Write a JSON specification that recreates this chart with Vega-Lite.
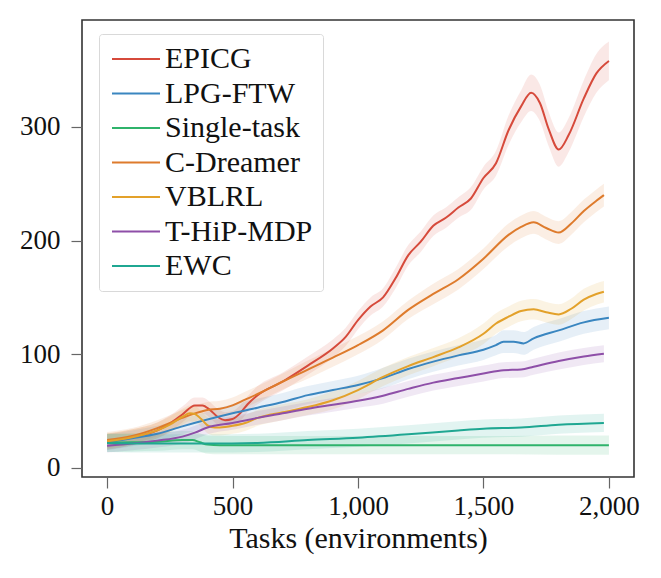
{
  "$schema": "https://vega.github.io/schema/vega-lite/v6.json",
  "width": 552,
  "height": 457,
  "padding": {"left": 19, "top": 20, "right": 10, "bottom": 10},
  "background": "white",
  "config": {
    "view": {"stroke": "#333333", "strokeWidth": 1.6},
    "font": "Liberation Serif",
    "axis": {
      "domain": false, "grid": false,
      "tickColor": "#666666", "tickSize": 11, "tickWidth": 1.2,
      "labelFont": "Liberation Serif", "labelFontSize": 27, "labelColor": "#111111",
      "titleFont": "Liberation Serif", "titleFontSize": 30, "titleFontWeight": "normal", "titleColor": "#111111"
    },
    "legend": {
      "orient": "none", "legendX": 17, "legendY": 14,
      "symbolType": "M-1,0L3,0", "symbolSize": 576, "symbolStrokeWidth": 2, "symbolOpacity": 1,
      "labelFont": "Liberation Serif", "labelFontSize": 30, "labelColor": "#111111", "labelOffset": 26,
      "padding": 10, "rowPadding": 4.5,
      "strokeColor": "#d9d9d9", "fillColor": "white", "cornerRadius": 3
    }
  },
  "data": {
    "values": [
      {"s": "EPICG", "x": 0, "y": 23, "lo": 16, "hi": 30},
      {"s": "EPICG", "x": 100, "y": 27, "lo": 20, "hi": 34},
      {"s": "EPICG", "x": 200, "y": 33, "lo": 26, "hi": 40},
      {"s": "EPICG", "x": 250, "y": 39, "lo": 32, "hi": 46},
      {"s": "EPICG", "x": 300, "y": 47, "lo": 40, "hi": 54},
      {"s": "EPICG", "x": 350, "y": 55, "lo": 48, "hi": 62},
      {"s": "EPICG", "x": 380, "y": 55, "lo": 48, "hi": 62},
      {"s": "EPICG", "x": 410, "y": 51, "lo": 44, "hi": 58},
      {"s": "EPICG", "x": 440, "y": 45, "lo": 38, "hi": 52},
      {"s": "EPICG", "x": 470, "y": 42, "lo": 35, "hi": 49},
      {"s": "EPICG", "x": 500, "y": 43, "lo": 36, "hi": 50},
      {"s": "EPICG", "x": 530, "y": 48, "lo": 41, "hi": 55},
      {"s": "EPICG", "x": 560, "y": 56, "lo": 49, "hi": 63},
      {"s": "EPICG", "x": 600, "y": 64, "lo": 56, "hi": 72},
      {"s": "EPICG", "x": 700, "y": 76, "lo": 68, "hi": 84},
      {"s": "EPICG", "x": 800, "y": 90, "lo": 82, "hi": 98},
      {"s": "EPICG", "x": 900, "y": 105, "lo": 97, "hi": 113},
      {"s": "EPICG", "x": 950, "y": 115, "lo": 107, "hi": 123},
      {"s": "EPICG", "x": 1000, "y": 130, "lo": 122, "hi": 138},
      {"s": "EPICG", "x": 1050, "y": 142, "lo": 134, "hi": 150},
      {"s": "EPICG", "x": 1100, "y": 150, "lo": 142, "hi": 158},
      {"s": "EPICG", "x": 1150, "y": 167, "lo": 158, "hi": 176},
      {"s": "EPICG", "x": 1200, "y": 187, "lo": 178, "hi": 196},
      {"s": "EPICG", "x": 1250, "y": 199, "lo": 190, "hi": 208},
      {"s": "EPICG", "x": 1300, "y": 213, "lo": 204, "hi": 222},
      {"s": "EPICG", "x": 1350, "y": 220, "lo": 211, "hi": 229},
      {"s": "EPICG", "x": 1400, "y": 229, "lo": 220, "hi": 238},
      {"s": "EPICG", "x": 1450, "y": 237, "lo": 227, "hi": 247},
      {"s": "EPICG", "x": 1500, "y": 255, "lo": 245, "hi": 265},
      {"s": "EPICG", "x": 1550, "y": 268, "lo": 257, "hi": 279},
      {"s": "EPICG", "x": 1600, "y": 297, "lo": 284, "hi": 310},
      {"s": "EPICG", "x": 1650, "y": 318, "lo": 304, "hi": 332},
      {"s": "EPICG", "x": 1690, "y": 330, "lo": 314, "hi": 346},
      {"s": "EPICG", "x": 1725, "y": 321, "lo": 305, "hi": 337},
      {"s": "EPICG", "x": 1760, "y": 298, "lo": 283, "hi": 313},
      {"s": "EPICG", "x": 1800, "y": 280, "lo": 265, "hi": 295},
      {"s": "EPICG", "x": 1840, "y": 293, "lo": 278, "hi": 308},
      {"s": "EPICG", "x": 1900, "y": 325, "lo": 309, "hi": 341},
      {"s": "EPICG", "x": 1950, "y": 347, "lo": 330, "hi": 364},
      {"s": "EPICG", "x": 2000, "y": 358, "lo": 341, "hi": 375},

      {"s": "LPG-FTW", "x": 0, "y": 22.5, "lo": 15.5, "hi": 29.5},
      {"s": "LPG-FTW", "x": 100, "y": 26, "lo": 19, "hi": 33},
      {"s": "LPG-FTW", "x": 200, "y": 30, "lo": 23, "hi": 37},
      {"s": "LPG-FTW", "x": 300, "y": 36.5, "lo": 29.5, "hi": 43.5},
      {"s": "LPG-FTW", "x": 400, "y": 42.5, "lo": 35.5, "hi": 49.5},
      {"s": "LPG-FTW", "x": 500, "y": 48, "lo": 40, "hi": 56},
      {"s": "LPG-FTW", "x": 600, "y": 53, "lo": 45, "hi": 61},
      {"s": "LPG-FTW", "x": 700, "y": 58, "lo": 50, "hi": 66},
      {"s": "LPG-FTW", "x": 800, "y": 64, "lo": 56, "hi": 72},
      {"s": "LPG-FTW", "x": 900, "y": 68.5, "lo": 60.5, "hi": 76.5},
      {"s": "LPG-FTW", "x": 1000, "y": 73, "lo": 65, "hi": 81},
      {"s": "LPG-FTW", "x": 1100, "y": 79, "lo": 70, "hi": 88},
      {"s": "LPG-FTW", "x": 1200, "y": 87, "lo": 78, "hi": 96},
      {"s": "LPG-FTW", "x": 1300, "y": 93.5, "lo": 84.5, "hi": 102.5},
      {"s": "LPG-FTW", "x": 1400, "y": 99, "lo": 90, "hi": 108},
      {"s": "LPG-FTW", "x": 1500, "y": 104, "lo": 95, "hi": 113},
      {"s": "LPG-FTW", "x": 1550, "y": 108, "lo": 99, "hi": 117},
      {"s": "LPG-FTW", "x": 1580, "y": 111, "lo": 101, "hi": 121},
      {"s": "LPG-FTW", "x": 1620, "y": 111, "lo": 101, "hi": 121},
      {"s": "LPG-FTW", "x": 1660, "y": 109.5, "lo": 99.5, "hi": 119.5},
      {"s": "LPG-FTW", "x": 1700, "y": 114, "lo": 104, "hi": 124},
      {"s": "LPG-FTW", "x": 1800, "y": 121, "lo": 111, "hi": 131},
      {"s": "LPG-FTW", "x": 1900, "y": 128, "lo": 118, "hi": 138},
      {"s": "LPG-FTW", "x": 2000, "y": 132, "lo": 122, "hi": 142},

      {"s": "Single-task", "x": 0, "y": 22, "lo": 14, "hi": 30},
      {"s": "Single-task", "x": 100, "y": 22.5, "lo": 14.5, "hi": 30.5},
      {"s": "Single-task", "x": 200, "y": 23, "lo": 15, "hi": 31},
      {"s": "Single-task", "x": 300, "y": 24.5, "lo": 16.5, "hi": 32.5},
      {"s": "Single-task", "x": 340, "y": 24.5, "lo": 16.5, "hi": 32.5},
      {"s": "Single-task", "x": 370, "y": 22.5, "lo": 14.5, "hi": 30.5},
      {"s": "Single-task", "x": 400, "y": 20.5, "lo": 12.5, "hi": 28.5},
      {"s": "Single-task", "x": 450, "y": 20, "lo": 12, "hi": 28},
      {"s": "Single-task", "x": 600, "y": 20, "lo": 12, "hi": 28},
      {"s": "Single-task", "x": 800, "y": 20, "lo": 12, "hi": 28},
      {"s": "Single-task", "x": 1000, "y": 20, "lo": 12, "hi": 28},
      {"s": "Single-task", "x": 1200, "y": 20, "lo": 12, "hi": 28},
      {"s": "Single-task", "x": 1400, "y": 20, "lo": 12, "hi": 28},
      {"s": "Single-task", "x": 1600, "y": 20, "lo": 12, "hi": 28},
      {"s": "Single-task", "x": 1800, "y": 20, "lo": 11.5, "hi": 28.5},
      {"s": "Single-task", "x": 2000, "y": 20, "lo": 11.5, "hi": 28.5},

      {"s": "C-Dreamer", "x": 0, "y": 24.5, "lo": 17.5, "hi": 31.5},
      {"s": "C-Dreamer", "x": 100, "y": 28, "lo": 21, "hi": 35},
      {"s": "C-Dreamer", "x": 200, "y": 35, "lo": 28, "hi": 42},
      {"s": "C-Dreamer", "x": 300, "y": 44, "lo": 37, "hi": 51},
      {"s": "C-Dreamer", "x": 350, "y": 48, "lo": 41, "hi": 55},
      {"s": "C-Dreamer", "x": 400, "y": 51, "lo": 44, "hi": 58},
      {"s": "C-Dreamer", "x": 450, "y": 52, "lo": 45, "hi": 59},
      {"s": "C-Dreamer", "x": 500, "y": 55, "lo": 48, "hi": 62},
      {"s": "C-Dreamer", "x": 550, "y": 60, "lo": 53, "hi": 67},
      {"s": "C-Dreamer", "x": 600, "y": 65, "lo": 58, "hi": 72},
      {"s": "C-Dreamer", "x": 700, "y": 76, "lo": 69, "hi": 83},
      {"s": "C-Dreamer", "x": 800, "y": 86.5, "lo": 78.5, "hi": 94.5},
      {"s": "C-Dreamer", "x": 900, "y": 97, "lo": 89, "hi": 105},
      {"s": "C-Dreamer", "x": 1000, "y": 108, "lo": 100, "hi": 116},
      {"s": "C-Dreamer", "x": 1100, "y": 121, "lo": 113, "hi": 129},
      {"s": "C-Dreamer", "x": 1200, "y": 139, "lo": 131, "hi": 147},
      {"s": "C-Dreamer", "x": 1300, "y": 153, "lo": 144, "hi": 162},
      {"s": "C-Dreamer", "x": 1400, "y": 166, "lo": 157, "hi": 175},
      {"s": "C-Dreamer", "x": 1500, "y": 184, "lo": 175, "hi": 193},
      {"s": "C-Dreamer", "x": 1600, "y": 205, "lo": 195, "hi": 215},
      {"s": "C-Dreamer", "x": 1650, "y": 212, "lo": 202, "hi": 222},
      {"s": "C-Dreamer", "x": 1700, "y": 216, "lo": 206, "hi": 226},
      {"s": "C-Dreamer", "x": 1750, "y": 211, "lo": 201, "hi": 221},
      {"s": "C-Dreamer", "x": 1800, "y": 207, "lo": 197, "hi": 217},
      {"s": "C-Dreamer", "x": 1850, "y": 215, "lo": 205, "hi": 225},
      {"s": "C-Dreamer", "x": 1900, "y": 226, "lo": 216, "hi": 236},
      {"s": "C-Dreamer", "x": 1950, "y": 235, "lo": 225, "hi": 245},
      {"s": "C-Dreamer", "x": 1980, "y": 240, "lo": 230, "hi": 250},

      {"s": "VBLRL", "x": 0, "y": 23.5, "lo": 16.5, "hi": 30.5},
      {"s": "VBLRL", "x": 100, "y": 27, "lo": 20, "hi": 34},
      {"s": "VBLRL", "x": 200, "y": 33, "lo": 26, "hi": 40},
      {"s": "VBLRL", "x": 250, "y": 38, "lo": 31, "hi": 45},
      {"s": "VBLRL", "x": 300, "y": 45, "lo": 38, "hi": 52},
      {"s": "VBLRL", "x": 330, "y": 48, "lo": 41, "hi": 55},
      {"s": "VBLRL", "x": 350, "y": 47.5, "lo": 40.5, "hi": 54.5},
      {"s": "VBLRL", "x": 375, "y": 43, "lo": 36, "hi": 50},
      {"s": "VBLRL", "x": 400, "y": 37.5, "lo": 30.5, "hi": 44.5},
      {"s": "VBLRL", "x": 430, "y": 35.5, "lo": 28.5, "hi": 42.5},
      {"s": "VBLRL", "x": 470, "y": 36, "lo": 29, "hi": 43},
      {"s": "VBLRL", "x": 500, "y": 37, "lo": 30, "hi": 44},
      {"s": "VBLRL", "x": 550, "y": 39.5, "lo": 32.5, "hi": 46.5},
      {"s": "VBLRL", "x": 600, "y": 44, "lo": 37, "hi": 51},
      {"s": "VBLRL", "x": 700, "y": 49, "lo": 42, "hi": 56},
      {"s": "VBLRL", "x": 800, "y": 53.5, "lo": 46.5, "hi": 60.5},
      {"s": "VBLRL", "x": 900, "y": 59.5, "lo": 51.5, "hi": 67.5},
      {"s": "VBLRL", "x": 1000, "y": 68.5, "lo": 60.5, "hi": 76.5},
      {"s": "VBLRL", "x": 1100, "y": 80, "lo": 72, "hi": 88},
      {"s": "VBLRL", "x": 1200, "y": 89.5, "lo": 81.5, "hi": 97.5},
      {"s": "VBLRL", "x": 1300, "y": 97.5, "lo": 89.5, "hi": 105.5},
      {"s": "VBLRL", "x": 1400, "y": 106, "lo": 98, "hi": 114},
      {"s": "VBLRL", "x": 1500, "y": 118, "lo": 109, "hi": 127},
      {"s": "VBLRL", "x": 1550, "y": 127, "lo": 118, "hi": 136},
      {"s": "VBLRL", "x": 1600, "y": 133, "lo": 124, "hi": 142},
      {"s": "VBLRL", "x": 1650, "y": 138, "lo": 129, "hi": 147},
      {"s": "VBLRL", "x": 1700, "y": 139.5, "lo": 130.5, "hi": 148.5},
      {"s": "VBLRL", "x": 1750, "y": 137, "lo": 128, "hi": 146},
      {"s": "VBLRL", "x": 1800, "y": 135, "lo": 126, "hi": 144},
      {"s": "VBLRL", "x": 1850, "y": 140, "lo": 131, "hi": 149},
      {"s": "VBLRL", "x": 1900, "y": 148, "lo": 138.5, "hi": 157.5},
      {"s": "VBLRL", "x": 1950, "y": 153, "lo": 143.5, "hi": 162.5},
      {"s": "VBLRL", "x": 1980, "y": 155, "lo": 145.5, "hi": 164.5},

      {"s": "T-HiP-MDP", "x": 0, "y": 19.5, "lo": 13.5, "hi": 25.5},
      {"s": "T-HiP-MDP", "x": 100, "y": 21.5, "lo": 15.5, "hi": 27.5},
      {"s": "T-HiP-MDP", "x": 200, "y": 24, "lo": 18, "hi": 30},
      {"s": "T-HiP-MDP", "x": 300, "y": 27.5, "lo": 21.5, "hi": 33.5},
      {"s": "T-HiP-MDP", "x": 350, "y": 31, "lo": 25, "hi": 37},
      {"s": "T-HiP-MDP", "x": 400, "y": 35.5, "lo": 29.5, "hi": 41.5},
      {"s": "T-HiP-MDP", "x": 500, "y": 39.5, "lo": 33.5, "hi": 45.5},
      {"s": "T-HiP-MDP", "x": 600, "y": 44, "lo": 38, "hi": 50},
      {"s": "T-HiP-MDP", "x": 700, "y": 48, "lo": 42, "hi": 54},
      {"s": "T-HiP-MDP", "x": 800, "y": 52, "lo": 46, "hi": 58},
      {"s": "T-HiP-MDP", "x": 900, "y": 55.5, "lo": 49.5, "hi": 61.5},
      {"s": "T-HiP-MDP", "x": 1000, "y": 59, "lo": 53, "hi": 65},
      {"s": "T-HiP-MDP", "x": 1100, "y": 63.5, "lo": 56.5, "hi": 70.5},
      {"s": "T-HiP-MDP", "x": 1200, "y": 69.5, "lo": 62.5, "hi": 76.5},
      {"s": "T-HiP-MDP", "x": 1300, "y": 75, "lo": 68, "hi": 82},
      {"s": "T-HiP-MDP", "x": 1400, "y": 79, "lo": 72, "hi": 86},
      {"s": "T-HiP-MDP", "x": 1500, "y": 83, "lo": 76, "hi": 90},
      {"s": "T-HiP-MDP", "x": 1580, "y": 86, "lo": 79, "hi": 93},
      {"s": "T-HiP-MDP", "x": 1650, "y": 86.5, "lo": 79.5, "hi": 93.5},
      {"s": "T-HiP-MDP", "x": 1700, "y": 89, "lo": 82, "hi": 96},
      {"s": "T-HiP-MDP", "x": 1800, "y": 94, "lo": 86.5, "hi": 101.5},
      {"s": "T-HiP-MDP", "x": 1900, "y": 98, "lo": 90.5, "hi": 105.5},
      {"s": "T-HiP-MDP", "x": 1980, "y": 100.5, "lo": 93, "hi": 108},

      {"s": "EWC", "x": 0, "y": 22, "lo": 14, "hi": 30},
      {"s": "EWC", "x": 200, "y": 21.5, "lo": 13.5, "hi": 29.5},
      {"s": "EWC", "x": 400, "y": 21.5, "lo": 13.5, "hi": 29.5},
      {"s": "EWC", "x": 600, "y": 22, "lo": 14, "hi": 30},
      {"s": "EWC", "x": 800, "y": 24.5, "lo": 16.5, "hi": 32.5},
      {"s": "EWC", "x": 1000, "y": 26.5, "lo": 18.5, "hi": 34.5},
      {"s": "EWC", "x": 1200, "y": 29.5, "lo": 21.5, "hi": 37.5},
      {"s": "EWC", "x": 1400, "y": 33, "lo": 25, "hi": 41},
      {"s": "EWC", "x": 1500, "y": 34.5, "lo": 26.5, "hi": 42.5},
      {"s": "EWC", "x": 1650, "y": 35.5, "lo": 27.5, "hi": 43.5},
      {"s": "EWC", "x": 1800, "y": 38, "lo": 30, "hi": 46},
      {"s": "EWC", "x": 1980, "y": 39.6, "lo": 31.6, "hi": 47.6}
    ]
  },
  "encoding": {
    "x": {
      "field": "x", "type": "quantitative",
      "scale": {"domain": [-100, 2100], "nice": false, "zero": false},
      "axis": {"values": [0, 500, 1000, 1500, 2000], "format": ",d", "labelPadding": 5, "titlePadding": 4, "title": "Tasks (environments)"}
    }
  },
  "layer": [
    {
      "mark": {"type": "area", "opacity": 0.13, "interpolate": "monotone"},
      "encoding": {
        "y": {"field": "lo", "type": "quantitative", "scale": {"domain": [-8, 394], "nice": false, "zero": false}, "axis": {"values": [0, 100, 200, 300], "labelPadding": 11, "title": null}},
        "y2": {"field": "hi"},
        "fill": {
          "field": "s", "type": "nominal",
          "scale": {
            "domain": ["EPICG", "LPG-FTW", "Single-task", "C-Dreamer", "VBLRL", "T-HiP-MDP", "EWC"],
            "range": ["#d64a3b", "#3a86c0", "#2fb36b", "#de7b2c", "#e3a12a", "#8e4fa8", "#1fa792"]
          },
          "legend": {"title": null}
        }
      }
    },
    {
      "mark": {"type": "line", "strokeWidth": 2, "interpolate": "monotone"},
      "encoding": {
        "y": {"field": "y", "type": "quantitative", "scale": {"domain": [-8, 394], "nice": false, "zero": false}, "axis": {"values": [0, 100, 200, 300], "labelPadding": 11, "title": null}},
        "stroke": {
          "field": "s", "type": "nominal",
          "scale": {
            "domain": ["EPICG", "LPG-FTW", "Single-task", "C-Dreamer", "VBLRL", "T-HiP-MDP", "EWC"],
            "range": ["#d64a3b", "#3a86c0", "#2fb36b", "#de7b2c", "#e3a12a", "#8e4fa8", "#1fa792"]
          },
          "legend": {"title": null}
        }
      }
    }
  ]
}
